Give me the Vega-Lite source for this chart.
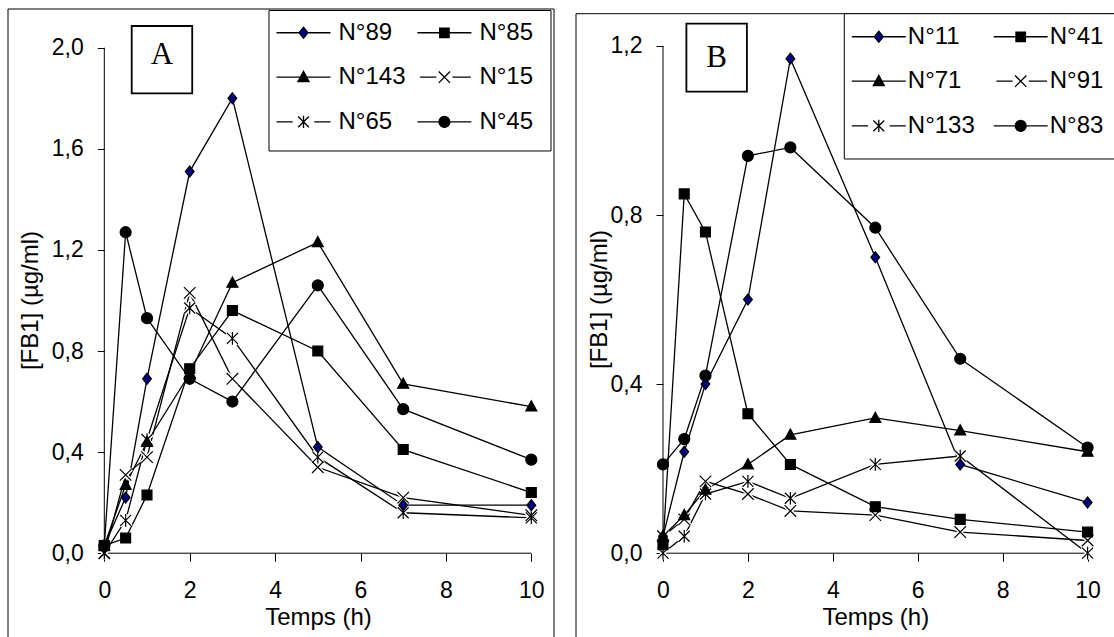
{
  "$schema": "https://vega.github.io/schema/vega-lite/v6.json",
  "background": "white",
  "padding": {"left": 7, "top": 8, "right": 0, "bottom": 0},
  "spacing": 22,
  "bounds": "flush",
  "config": {
    "view": {"stroke": null},
    "axis": {"domain": false, "grid": false, "tickColor": "black", "tickWidth": 1, "labelFont": "Liberation Sans", "labelFontSize": 23, "labelColor": "black", "titleFont": "Liberation Sans", "titleFontSize": 24, "titleFontWeight": "normal", "titleColor": "black", "labelOverlap": false, "labelFlush": false, "labelBound": false},
    "axisX": {"tickSize": 8, "labelPadding": 36.3, "labelBaseline": "alphabetic", "labelAngle": 0},
    "axisY": {"tickSize": 7, "labelPadding": 14}
  },
  "datasets": {
    "A": [
      {"series": "N°89", "t": 0, "v": 0.03}, {"series": "N°89", "t": 0.5, "v": 0.22}, {"series": "N°89", "t": 1, "v": 0.69}, {"series": "N°89", "t": 2, "v": 1.51}, {"series": "N°89", "t": 3, "v": 1.80}, {"series": "N°89", "t": 5, "v": 0.42}, {"series": "N°89", "t": 7, "v": 0.19}, {"series": "N°89", "t": 10, "v": 0.19},
      {"series": "N°85", "t": 0, "v": 0.03}, {"series": "N°85", "t": 0.5, "v": 0.06}, {"series": "N°85", "t": 1, "v": 0.23}, {"series": "N°85", "t": 2, "v": 0.73}, {"series": "N°85", "t": 3, "v": 0.96}, {"series": "N°85", "t": 5, "v": 0.80}, {"series": "N°85", "t": 7, "v": 0.41}, {"series": "N°85", "t": 10, "v": 0.24},
      {"series": "N°143", "t": 0, "v": 0.03}, {"series": "N°143", "t": 0.5, "v": 0.27}, {"series": "N°143", "t": 1, "v": 0.44}, {"series": "N°143", "t": 2, "v": 0.71}, {"series": "N°143", "t": 3, "v": 1.07}, {"series": "N°143", "t": 5, "v": 1.23}, {"series": "N°143", "t": 7, "v": 0.67}, {"series": "N°143", "t": 10, "v": 0.58},
      {"series": "N°15", "t": 0, "v": 0.0}, {"series": "N°15", "t": 0.5, "v": 0.31}, {"series": "N°15", "t": 1, "v": 0.38}, {"series": "N°15", "t": 2, "v": 1.03}, {"series": "N°15", "t": 3, "v": 0.69}, {"series": "N°15", "t": 5, "v": 0.34}, {"series": "N°15", "t": 7, "v": 0.22}, {"series": "N°15", "t": 10, "v": 0.15},
      {"series": "N°65", "t": 0, "v": 0.0}, {"series": "N°65", "t": 0.5, "v": 0.13}, {"series": "N°65", "t": 1, "v": 0.45}, {"series": "N°65", "t": 2, "v": 0.97}, {"series": "N°65", "t": 3, "v": 0.85}, {"series": "N°65", "t": 5, "v": 0.38}, {"series": "N°65", "t": 7, "v": 0.16}, {"series": "N°65", "t": 10, "v": 0.14},
      {"series": "N°45", "t": 0, "v": 0.03}, {"series": "N°45", "t": 0.5, "v": 1.27}, {"series": "N°45", "t": 1, "v": 0.93}, {"series": "N°45", "t": 2, "v": 0.69}, {"series": "N°45", "t": 3, "v": 0.60}, {"series": "N°45", "t": 5, "v": 1.06}, {"series": "N°45", "t": 7, "v": 0.57}, {"series": "N°45", "t": 10, "v": 0.37}
    ],
    "B": [
      {"series": "N°11", "t": 0, "v": 0.04}, {"series": "N°11", "t": 0.5, "v": 0.24}, {"series": "N°11", "t": 1, "v": 0.40}, {"series": "N°11", "t": 2, "v": 0.60}, {"series": "N°11", "t": 3, "v": 1.17}, {"series": "N°11", "t": 5, "v": 0.70}, {"series": "N°11", "t": 7, "v": 0.21}, {"series": "N°11", "t": 10, "v": 0.12},
      {"series": "N°41", "t": 0, "v": 0.02}, {"series": "N°41", "t": 0.5, "v": 0.85}, {"series": "N°41", "t": 1, "v": 0.76}, {"series": "N°41", "t": 2, "v": 0.33}, {"series": "N°41", "t": 3, "v": 0.21}, {"series": "N°41", "t": 5, "v": 0.11}, {"series": "N°41", "t": 7, "v": 0.08}, {"series": "N°41", "t": 10, "v": 0.05},
      {"series": "N°71", "t": 0, "v": 0.04}, {"series": "N°71", "t": 0.5, "v": 0.09}, {"series": "N°71", "t": 1, "v": 0.15}, {"series": "N°71", "t": 2, "v": 0.21}, {"series": "N°71", "t": 3, "v": 0.28}, {"series": "N°71", "t": 5, "v": 0.32}, {"series": "N°71", "t": 7, "v": 0.29}, {"series": "N°71", "t": 10, "v": 0.24},
      {"series": "N°91", "t": 0, "v": 0.04}, {"series": "N°91", "t": 0.5, "v": 0.08}, {"series": "N°91", "t": 1, "v": 0.17}, {"series": "N°91", "t": 2, "v": 0.14}, {"series": "N°91", "t": 3, "v": 0.10}, {"series": "N°91", "t": 5, "v": 0.09}, {"series": "N°91", "t": 7, "v": 0.05}, {"series": "N°91", "t": 10, "v": 0.03},
      {"series": "N°133", "t": 0, "v": 0.0}, {"series": "N°133", "t": 0.5, "v": 0.04}, {"series": "N°133", "t": 1, "v": 0.14}, {"series": "N°133", "t": 2, "v": 0.17}, {"series": "N°133", "t": 3, "v": 0.13}, {"series": "N°133", "t": 5, "v": 0.21}, {"series": "N°133", "t": 7, "v": 0.23}, {"series": "N°133", "t": 10, "v": 0.0},
      {"series": "N°83", "t": 0, "v": 0.21}, {"series": "N°83", "t": 0.5, "v": 0.27}, {"series": "N°83", "t": 1, "v": 0.42}, {"series": "N°83", "t": 2, "v": 0.94}, {"series": "N°83", "t": 3, "v": 0.96}, {"series": "N°83", "t": 5, "v": 0.77}, {"series": "N°83", "t": 7, "v": 0.46}, {"series": "N°83", "t": 10, "v": 0.25}
    ]
  },
  "hconcat": [
    {
      "width": 546,
      "height": 628,
      "data": {"name": "A"},
      "layer": [
        {"mark": {"type": "line", "color": "black", "strokeWidth": 1.3}, "encoding": {
          "x": {"field": "t", "type": "quantitative", "scale": {"domain": [-2.2553, 10.5316], "nice": false, "zero": false}, "axis": {"values": [0, 2, 4, 6, 8, 10], "format": "d", "offset": -83.8, "title": "Temps (h)", "titleX": 310, "titleY": 71.7, "titleBaseline": "alphabetic"}},
          "y": {"field": "v", "type": "quantitative", "scale": {"domain": [-0.33155, 2.15312], "nice": false, "zero": false}, "axis": {"values": [0, 0.4, 0.8, 1.2, 1.6, 2.0], "offset": -96.3, "title": "[FB1] (µg/ml)", "titleX": -74, "titleY": 291, "titleBaseline": "middle", "labelExpr": "replace(format(datum.value, '.1f'), '.', ',')"}},
          "detail": {"field": "series"}, "order": {"field": "t"}}},
        {"data": {"values": [{}]}, "mark": {"type": "rule", "color": "black", "strokeWidth": 1}, "encoding": {"x": {"datum": -2.2553, "type": "quantitative"}, "y": {"datum": -0.33155, "type": "quantitative"}, "y2": {"datum": 2.15312}}},
        {"data": {"values": [{}]}, "mark": {"type": "rule", "color": "black", "strokeWidth": 1}, "encoding": {"x": {"datum": 10.5316, "type": "quantitative"}, "y": {"datum": -0.33155, "type": "quantitative"}, "y2": {"datum": 2.15312}}},
        {"data": {"values": [{}]}, "mark": {"type": "rule", "color": "black", "strokeWidth": 1}, "encoding": {"y": {"datum": 2.15312, "type": "quantitative"}, "x": {"datum": -2.2553, "type": "quantitative"}, "x2": {"datum": 10.5316}}},
        {"data": {"values": [{}]}, "mark": {"type": "rule", "color": "black", "strokeWidth": 1}, "encoding": {"y": {"datum": 0, "type": "quantitative"}, "x": {"datum": 0, "type": "quantitative"}, "x2": {"datum": 10}}},
        {"data": {"values": [{}]}, "mark": {"type": "rule", "color": "black", "strokeWidth": 1}, "encoding": {"x": {"datum": 0, "type": "quantitative"}, "y": {"datum": 0, "type": "quantitative"}, "y2": {"datum": 2.0}}},
        {"transform": [{"filter": {"field": "series", "oneOf": ["N°15", "N°65"]}}], "mark": {"type": "point", "filled": false, "opacity": 1, "size": 121, "stroke": "white", "strokeWidth": 4}, "encoding": {
          "x": {"field": "t", "type": "quantitative"}, "y": {"field": "v", "type": "quantitative"},
          "shape": {"field": "series", "type": "nominal", "scale": {"domain": ["N°89", "N°85", "N°143", "N°15", "N°65", "N°45"], "range": ["M0,-1L0.8,0L0,1L-0.8,0Z", "M-0.9,-0.9H0.9V0.9H-0.9Z", "M0,-1.05L1,0.8H-1Z", "M-1.05,-1.05L1.05,1.05M-1.05,1.05L1.05,-1.05", "M-1,-1L1,1M-1,1L1,-1M0,-1.15V1.15", "circle"]}, "legend": null}}},
        {"mark": {"type": "point", "filled": true, "opacity": 1, "size": 121, "stroke": "black", "strokeWidth": 1.2}, "encoding": {
          "x": {"field": "t", "type": "quantitative"}, "y": {"field": "v", "type": "quantitative"},
          "shape": {"field": "series", "type": "nominal", "scale": {"domain": ["N°89", "N°85", "N°143", "N°15", "N°65", "N°45"], "range": ["M0,-1L0.8,0L0,1L-0.8,0Z", "M-0.9,-0.9H0.9V0.9H-0.9Z", "M0,-1.05L1,0.8H-1Z", "M-1.05,-1.05L1.05,1.05M-1.05,1.05L1.05,-1.05", "M-1,-1L1,1M-1,1L1,-1M0,-1.15V1.15", "circle"]}, "legend": null},
          "fill": {"field": "series", "type": "nominal", "scale": {"domain": ["N°89", "N°85", "N°143", "N°15", "N°65", "N°45"], "range": ["#000080", "black", "black", "transparent", "transparent", "black"]}, "legend": null}}},
        {"data": {"values": [{}]}, "mark": {"type": "rect", "fill": "white", "stroke": "black", "strokeWidth": 1.8}, "encoding": {"x": {"datum": 0.642, "type": "quantitative"}, "x2": {"datum": 2.059}, "y": {"datum": 2.0859, "type": "quantitative"}, "y2": {"datum": 1.8196}}},
        {"data": {"values": [{}]}, "mark": {"type": "text", "text": "A", "font": "Liberation Serif", "fontSize": 31, "color": "black", "align": "center", "baseline": "middle"}, "encoding": {"x": {"datum": 1.351, "type": "quantitative"}, "y": {"datum": 1.97, "type": "quantitative"}}},
        {"data": {"values": [{}]}, "mark": {"type": "rect", "fill": "white", "stroke": "black", "strokeWidth": 1}, "encoding": {"x": {"datum": 3.857, "type": "quantitative"}, "x2": {"datum": 10.461}, "y": {"datum": 2.1472, "type": "quantitative"}, "y2": {"datum": 1.5913}}},
        {"transform": [{"filter": "false"}], "mark": {"type": "point", "filled": true, "opacity": 1, "size": 729, "strokeWidth": 1.3}, "encoding": {
          "x": {"field": "t", "type": "quantitative"}, "y": {"field": "v", "type": "quantitative"},
          "shape": {"field": "series", "type": "nominal", "scale": {"domain": ["N°89", "N°85", "N°143", "N°15", "N°65", "N°45"], "range": ["M-2,0H-0.33M0.33,0H2M0,-0.41L0.33,0L0,0.41L-0.33,0Z", "M-2,0H-0.35M0.35,0H2M-0.35,-0.35H0.35V0.35H-0.35Z", "M-2,0H2M0,-0.43L0.41,0.33H-0.41Z", "M-1.8,0H-0.6M0.6,0H1.95M-0.42,-0.42L0.42,0.42M-0.42,0.42L0.42,-0.42", "M-2,0H-0.8M0.8,0H2M-0.4,-0.4L0.4,0.4M-0.4,0.4L0.4,-0.4M0,-0.45V0.45", "M-2,0H2M-0.4,0A0.4,0.4 0 1,0 0.4,0A0.4,0.4 0 1,0 -0.4,0Z"]}, "legend": {"title": null, "orient": "none", "direction": "horizontal", "legendX": 261, "legendY": -1, "columns": 2, "columnPadding": 7.9, "rowPadding": 17.7, "padding": 10, "symbolOffset": 10, "labelOffset": 20.5, "gridAlign": "all", "symbolSize": 729, "labelFont": "Liberation Sans", "labelFontSize": 24, "labelColor": "black", "symbolStrokeWidth": 1.3}},
          "fill": {"field": "series", "type": "nominal", "scale": {"domain": ["N°89", "N°85", "N°143", "N°15", "N°65", "N°45"], "range": ["#000080", "black", "black", "transparent", "transparent", "black"]}, "legend": {"title": null, "orient": "none", "direction": "horizontal", "legendX": 261, "legendY": -1, "columns": 2, "columnPadding": 7.9, "rowPadding": 17.7, "padding": 10, "symbolOffset": 10, "labelOffset": 20.5, "gridAlign": "all", "symbolSize": 729, "labelFont": "Liberation Sans", "labelFontSize": 24, "labelColor": "black", "symbolStrokeWidth": 1.3}},
          "stroke": {"field": "series", "type": "nominal", "scale": {"domain": ["N°89", "N°85", "N°143", "N°15", "N°65", "N°45"], "range": ["black", "black", "black", "black", "black", "black"]}, "legend": {"title": null, "orient": "none", "direction": "horizontal", "legendX": 261, "legendY": -1, "columns": 2, "columnPadding": 7.9, "rowPadding": 17.7, "padding": 10, "symbolOffset": 10, "labelOffset": 20.5, "gridAlign": "all", "symbolSize": 729, "labelFont": "Liberation Sans", "labelFontSize": 24, "labelColor": "black", "symbolStrokeWidth": 1.3}}
        }}
      ],
      "resolve": {"scale": {"shape": "independent", "fill": "independent", "stroke": "independent"}}
    },
    {
      "width": 538,
      "height": 628,
      "data": {"name": "B"},
      "layer": [
        {"mark": {"type": "line", "color": "black", "strokeWidth": 1.3}, "encoding": {
          "x": {"field": "t", "type": "quantitative", "scale": {"domain": [-2.049, 10.622], "nice": false, "zero": false}, "axis": {"values": [0, 2, 4, 6, 8, 10], "format": "d", "offset": -83.8, "title": "Temps (h)", "titleX": 299.3, "titleY": 71.7, "titleBaseline": "alphabetic"}},
          "y": {"field": "v", "type": "quantitative", "scale": {"domain": [-0.19825, 1.28744], "nice": false, "zero": false}, "axis": {"values": [0, 0.4, 0.8, 1.2], "offset": -87, "title": "[FB1] (µg/ml)", "titleX": -64, "titleY": 290, "titleBaseline": "middle", "labelExpr": "replace(format(datum.value, '.1f'), '.', ',')"}},
          "detail": {"field": "series"}, "order": {"field": "t"}}},
        {"data": {"values": [{}]}, "mark": {"type": "rule", "color": "black", "strokeWidth": 1}, "encoding": {"x": {"datum": -2.049, "type": "quantitative"}, "y": {"datum": -0.19825, "type": "quantitative"}, "y2": {"datum": 1.27632}}},
        {"data": {"values": [{}]}, "mark": {"type": "rule", "color": "black", "strokeWidth": 1}, "encoding": {"y": {"datum": 1.27632, "type": "quantitative"}, "x": {"datum": -2.049, "type": "quantitative"}, "x2": {"datum": 10.622}}},
        {"data": {"values": [{}]}, "mark": {"type": "rule", "color": "black", "strokeWidth": 1}, "encoding": {"y": {"datum": 0, "type": "quantitative"}, "x": {"datum": 0, "type": "quantitative"}, "x2": {"datum": 10}}},
        {"data": {"values": [{}]}, "mark": {"type": "rule", "color": "black", "strokeWidth": 1}, "encoding": {"x": {"datum": 0, "type": "quantitative"}, "y": {"datum": 0, "type": "quantitative"}, "y2": {"datum": 1.2}}},
        {"transform": [{"filter": {"field": "series", "oneOf": ["N°91", "N°133"]}}], "mark": {"type": "point", "filled": false, "opacity": 1, "size": 121, "stroke": "white", "strokeWidth": 4}, "encoding": {
          "x": {"field": "t", "type": "quantitative"}, "y": {"field": "v", "type": "quantitative"},
          "shape": {"field": "series", "type": "nominal", "scale": {"domain": ["N°11", "N°41", "N°71", "N°91", "N°133", "N°83"], "range": ["M0,-1L0.8,0L0,1L-0.8,0Z", "M-0.9,-0.9H0.9V0.9H-0.9Z", "M0,-1.05L1,0.8H-1Z", "M-1.05,-1.05L1.05,1.05M-1.05,1.05L1.05,-1.05", "M-1,-1L1,1M-1,1L1,-1M0,-1.15V1.15", "circle"]}, "legend": null}}},
        {"mark": {"type": "point", "filled": true, "opacity": 1, "size": 121, "stroke": "black", "strokeWidth": 1.2}, "encoding": {
          "x": {"field": "t", "type": "quantitative"}, "y": {"field": "v", "type": "quantitative"},
          "shape": {"field": "series", "type": "nominal", "scale": {"domain": ["N°11", "N°41", "N°71", "N°91", "N°133", "N°83"], "range": ["M0,-1L0.8,0L0,1L-0.8,0Z", "M-0.9,-0.9H0.9V0.9H-0.9Z", "M0,-1.05L1,0.8H-1Z", "M-1.05,-1.05L1.05,1.05M-1.05,1.05L1.05,-1.05", "M-1,-1L1,1M-1,1L1,-1M0,-1.15V1.15", "circle"]}, "legend": null},
          "fill": {"field": "series", "type": "nominal", "scale": {"domain": ["N°11", "N°41", "N°71", "N°91", "N°133", "N°83"], "range": ["#000080", "black", "black", "transparent", "transparent", "black"]}, "legend": null}}},
        {"data": {"values": [{}]}, "mark": {"type": "rect", "fill": "white", "stroke": "black", "strokeWidth": 1.8}, "encoding": {"x": {"datum": 0.551, "type": "quantitative"}, "x2": {"datum": 1.976}, "y": {"datum": 1.253, "type": "quantitative"}, "y2": {"datum": 1.092}}},
        {"data": {"values": [{}]}, "mark": {"type": "text", "text": "B", "font": "Liberation Serif", "fontSize": 31, "color": "black", "align": "center", "baseline": "middle"}, "encoding": {"x": {"datum": 1.262, "type": "quantitative"}, "y": {"datum": 1.1725, "type": "quantitative"}}},
        {"data": {"values": [{}]}, "mark": {"type": "rect", "fill": "white", "stroke": "black", "strokeWidth": 1, "clip": true}, "encoding": {"x": {"datum": 4.27, "type": "quantitative"}, "x2": {"datum": 11.5}, "y": {"datum": 1.27632, "type": "quantitative"}, "y2": {"datum": 0.9326}}},
        {"transform": [{"filter": "false"}], "mark": {"type": "point", "filled": true, "opacity": 1, "size": 729, "strokeWidth": 1.3}, "encoding": {
          "x": {"field": "t", "type": "quantitative"}, "y": {"field": "v", "type": "quantitative"},
          "shape": {"field": "series", "type": "nominal", "scale": {"domain": ["N°11", "N°41", "N°71", "N°91", "N°133", "N°83"], "range": ["M-2,0H-0.33M0.33,0H2M0,-0.41L0.33,0L0,0.41L-0.33,0Z", "M-2,0H-0.35M0.35,0H2M-0.35,-0.35H0.35V0.35H-0.35Z", "M-2,0H2M0,-0.43L0.41,0.33H-0.41Z", "M-1.8,0H-0.6M0.6,0H1.95M-0.42,-0.42L0.42,0.42M-0.42,0.42L0.42,-0.42", "M-2,0H-0.8M0.8,0H2M-0.4,-0.4L0.4,0.4M-0.4,0.4L0.4,-0.4M0,-0.45V0.45", "M-2,0H2M-0.4,0A0.4,0.4 0 1,0 0.4,0A0.4,0.4 0 1,0 -0.4,0Z"]}, "legend": {"title": null, "orient": "none", "direction": "horizontal", "legendX": 268.3, "legendY": 3, "columns": 2, "columnPadding": 14.9, "rowPadding": 17.7, "padding": 10, "symbolOffset": 10, "labelOffset": 14.5, "gridAlign": "all", "symbolSize": 729, "labelFont": "Liberation Sans", "labelFontSize": 24, "labelColor": "black", "symbolStrokeWidth": 1.3}},
          "fill": {"field": "series", "type": "nominal", "scale": {"domain": ["N°11", "N°41", "N°71", "N°91", "N°133", "N°83"], "range": ["#000080", "black", "black", "transparent", "transparent", "black"]}, "legend": {"title": null, "orient": "none", "direction": "horizontal", "legendX": 268.3, "legendY": 3, "columns": 2, "columnPadding": 14.9, "rowPadding": 17.7, "padding": 10, "symbolOffset": 10, "labelOffset": 14.5, "gridAlign": "all", "symbolSize": 729, "labelFont": "Liberation Sans", "labelFontSize": 24, "labelColor": "black", "symbolStrokeWidth": 1.3}},
          "stroke": {"field": "series", "type": "nominal", "scale": {"domain": ["N°11", "N°41", "N°71", "N°91", "N°133", "N°83"], "range": ["black", "black", "black", "black", "black", "black"]}, "legend": {"title": null, "orient": "none", "direction": "horizontal", "legendX": 268.3, "legendY": 3, "columns": 2, "columnPadding": 14.9, "rowPadding": 17.7, "padding": 10, "symbolOffset": 10, "labelOffset": 14.5, "gridAlign": "all", "symbolSize": 729, "labelFont": "Liberation Sans", "labelFontSize": 24, "labelColor": "black", "symbolStrokeWidth": 1.3}}
        }}
      ],
      "resolve": {"scale": {"shape": "independent", "fill": "independent", "stroke": "independent"}}
    }
  ]
}
